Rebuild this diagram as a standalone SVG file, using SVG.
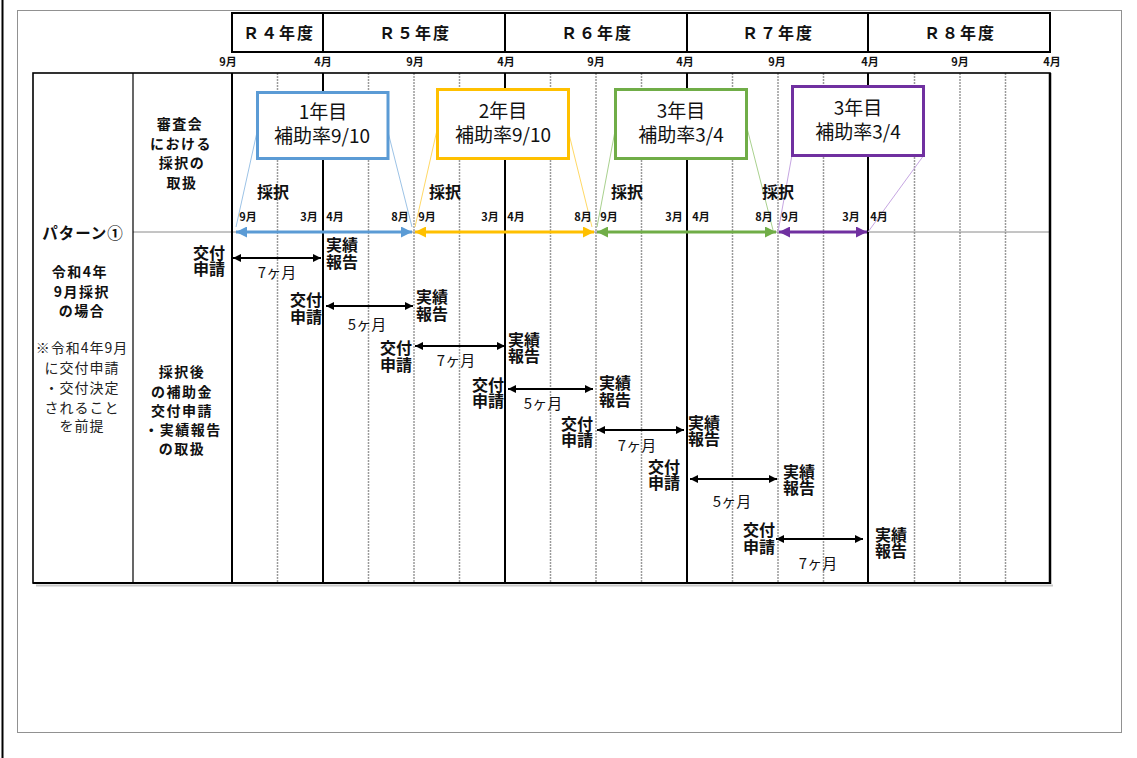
<svg xmlns="http://www.w3.org/2000/svg" width="1137" height="758" viewBox="0 0 1137 758">
<style>
text{font-family:"Noto Sans CJK JP","Liberation Sans",sans-serif;fill:#111}
.b{font-weight:bold}
.hdr{font-size:16px;font-weight:bold;text-anchor:middle;letter-spacing:2px}
.mo{font-size:11px;font-weight:bold;text-anchor:middle}
.sm{font-size:11px;font-weight:bold;text-anchor:middle}
.lab{font-size:14px;font-weight:bold;text-anchor:middle;letter-spacing:1.5px}
.note{font-size:14px;text-anchor:middle;letter-spacing:1px;fill:#222}
.box{font-size:19px;text-anchor:middle}
.sai{font-size:16px;font-weight:bold}
.ev{font-size:16px;font-weight:bold}
.evr{font-size:16px;font-weight:bold;text-anchor:end}
.dur{font-size:15px;text-anchor:middle}
.thick{stroke:#000;stroke-width:2;fill:none}
.grid{stroke:#9a9a9a;stroke-width:1.5;stroke-dasharray:2 1}
.arr{stroke:#000;stroke-width:2;marker-start:url(#ak);marker-end:url(#ak)}
</style>
<defs>
<marker id="ak" viewBox="0 0 10 10" refX="10" refY="5" markerWidth="9" markerHeight="8" markerUnits="userSpaceOnUse" orient="auto-start-reverse"><path d="M0,0 L10,5 L0,10 z" fill="#000"/></marker>
<marker id="abl" viewBox="0 0 10 10" refX="10" refY="5" markerWidth="11" markerHeight="11" markerUnits="userSpaceOnUse" orient="auto-start-reverse"><path d="M0,0 L10,5 L0,10 z" fill="#5b9bd5"/></marker>
<marker id="aye" viewBox="0 0 10 10" refX="10" refY="5" markerWidth="11" markerHeight="11" markerUnits="userSpaceOnUse" orient="auto-start-reverse"><path d="M0,0 L10,5 L0,10 z" fill="#ffc000"/></marker>
<marker id="agr" viewBox="0 0 10 10" refX="10" refY="5" markerWidth="11" markerHeight="11" markerUnits="userSpaceOnUse" orient="auto-start-reverse"><path d="M0,0 L10,5 L0,10 z" fill="#70ad47"/></marker>
<marker id="apu" viewBox="0 0 10 10" refX="10" refY="5" markerWidth="11" markerHeight="11" markerUnits="userSpaceOnUse" orient="auto-start-reverse"><path d="M0,0 L10,5 L0,10 z" fill="#7030a0"/></marker>
</defs>
<rect width="1137" height="758" fill="#fff"/>
<line x1="2.5" y1="0" x2="2.5" y2="758" stroke="#000" stroke-width="2"/>
<rect x="17.5" y="10.5" width="1104" height="722" fill="none" stroke="#222" stroke-width="1" stroke-dasharray="1 1"/>

<g id="header">
<rect x="232" y="13" width="818" height="39" class="thick"/>
<line x1="323" y1="13" x2="323" y2="52" class="thick"/>
<line x1="505" y1="13" x2="505" y2="52" class="thick"/>
<line x1="687" y1="13" x2="687" y2="52" class="thick"/>
<line x1="868" y1="13" x2="868" y2="52" class="thick"/>
<text class="hdr" x="279" y="39">Ｒ４年度</text>
<text class="hdr" x="415" y="39">Ｒ５年度</text>
<text class="hdr" x="597" y="39">Ｒ６年度</text>
<text class="hdr" x="778" y="39">Ｒ７年度</text>
<text class="hdr" x="960" y="39">Ｒ８年度</text>
<text class="mo" x="228" y="66">9月</text>
<text class="mo" x="323" y="66">4月</text>
<text class="mo" x="415" y="66">9月</text>
<text class="mo" x="506" y="66">4月</text>
<text class="mo" x="596" y="66">9月</text>
<text class="mo" x="685" y="66">4月</text>
<text class="mo" x="777" y="66">9月</text>
<text class="mo" x="870" y="66">4月</text>
<text class="mo" x="960" y="66">9月</text>
<text class="mo" x="1052" y="66">4月</text>
</g>

<g id="table">
<line class="grid" x1="277.5" y1="73" x2="277.5" y2="583"/>
<line class="grid" x1="368.5" y1="73" x2="368.5" y2="583"/>
<line class="grid" x1="414" y1="73" x2="414" y2="583"/>
<line class="grid" x1="459.5" y1="73" x2="459.5" y2="583"/>
<line class="grid" x1="550.5" y1="73" x2="550.5" y2="583"/>
<line class="grid" x1="596" y1="73" x2="596" y2="583"/>
<line class="grid" x1="641.5" y1="73" x2="641.5" y2="583"/>
<line class="grid" x1="732.5" y1="73" x2="732.5" y2="583"/>
<line class="grid" x1="778" y1="73" x2="778" y2="583"/>
<line class="grid" x1="823.5" y1="73" x2="823.5" y2="583"/>
<line class="grid" x1="914.5" y1="73" x2="914.5" y2="583"/>
<line class="grid" x1="960" y1="73" x2="960" y2="583"/>
<line class="grid" x1="1005.5" y1="73" x2="1005.5" y2="583"/>
<line x1="133" y1="232" x2="1050" y2="232" stroke="#8a8a8a" stroke-width="1"/>
<line x1="36" y1="585.5" x2="1053" y2="585.5" stroke="#c8c8c8" stroke-width="2"/>
<rect x="33" y="73" width="1017" height="510" fill="none" stroke="#000" stroke-width="1.6"/>
<line x1="1050" y1="73" x2="1050" y2="584" stroke="#000" stroke-width="2.5"/>
<line x1="33" y1="583" x2="1050" y2="583" stroke="#000" stroke-width="2.2"/>
<line x1="133" y1="73" x2="133" y2="583" stroke="#000" stroke-width="1.2"/>
<line x1="232" y1="73" x2="232" y2="583" class="thick"/>
<line x1="323" y1="73" x2="323" y2="583" class="thick"/>
<line x1="505" y1="73" x2="505" y2="583" class="thick"/>
<line x1="687" y1="73" x2="687" y2="583" class="thick"/>
<line x1="868" y1="73" x2="868" y2="583" class="thick"/>
</g>

<g id="left-col">
<text class="b" x="83" y="239" text-anchor="middle" font-size="15.5" letter-spacing="1">パターン①</text>
<text class="lab"><tspan x="80" y="277">令和4年</tspan><tspan x="82" y="297">9月採択</tspan><tspan x="82" y="316">の場合</tspan></text>
<text class="note"><tspan x="82" y="353">※令和4年9月</tspan><tspan x="82" y="373">に交付申請</tspan><tspan x="82" y="393">・交付決定</tspan><tspan x="82" y="413">されること</tspan><tspan x="82" y="431">を前提</tspan></text>
</g>

<g id="col2">
<text class="lab"><tspan x="180" y="129">審査会</tspan><tspan x="181" y="149">における</tspan><tspan x="182" y="168">採択の</tspan><tspan x="182" y="188">取扱</tspan></text>
<text class="lab"><tspan x="182" y="377">採択後</tspan><tspan x="182" y="397">の補助金</tspan><tspan x="182" y="416">交付申請</tspan><tspan x="183" y="435">・実績報告</tspan><tspan x="182" y="454">の取扱</tspan></text>
</g>

<g id="connectors">
<line x1="257" y1="132" x2="236" y2="227" stroke="#9dc3e6" stroke-width="1"/>
<line x1="388" y1="132" x2="412" y2="227" stroke="#9dc3e6" stroke-width="1"/>
<line x1="437" y1="130" x2="415" y2="227" stroke="#ffd966" stroke-width="1"/>
<line x1="568" y1="130" x2="592" y2="227" stroke="#ffd966" stroke-width="1"/>
<line x1="615" y1="131" x2="597" y2="227" stroke="#a9d18e" stroke-width="1"/>
<line x1="747" y1="128" x2="773" y2="230" stroke="#a9d18e" stroke-width="1"/>
<line x1="792" y1="155" x2="778" y2="232" stroke="#c6a6e2" stroke-width="1"/>
<line x1="924" y1="155" x2="868" y2="232" stroke="#c6a6e2" stroke-width="1"/>
<line x1="236" y1="232" x2="412" y2="232" stroke="#5b9bd5" stroke-width="3" marker-start="url(#abl)" marker-end="url(#abl)"/>
<line x1="415" y1="232" x2="594" y2="232" stroke="#ffc000" stroke-width="3" marker-start="url(#aye)" marker-end="url(#aye)"/>
<line x1="597" y1="232" x2="776" y2="232" stroke="#70ad47" stroke-width="3" marker-start="url(#agr)" marker-end="url(#agr)"/>
<line x1="779" y1="232" x2="867" y2="232" stroke="#7030a0" stroke-width="3" marker-start="url(#apu)" marker-end="url(#apu)"/>
<line class="arr" x1="233" y1="258" x2="321" y2="258"/>
<line class="arr" x1="326" y1="306" x2="413" y2="306"/>
<line class="arr" x1="415" y1="346" x2="505" y2="346"/>
<line class="arr" x1="508" y1="389" x2="593" y2="389"/>
<line class="arr" x1="597" y1="430" x2="684" y2="430"/>
<line class="arr" x1="690" y1="479" x2="777" y2="479"/>
<line class="arr" x1="776" y1="539" x2="863" y2="539"/>
</g>

<g id="year1">
<rect x="257.5" y="92.5" width="130.5" height="66" fill="#fff" stroke="#5b9bd5" stroke-width="3"/>
<text class="box"><tspan x="323" y="119">1年目</tspan><tspan x="322" y="143">補助率9/10</tspan></text>
<text class="sai" x="257" y="198">採択</text>
<text class="sm" x="248" y="221">9月</text>
<text class="sm" x="309" y="221">3月</text>
<text class="sm" x="335" y="221">4月</text>
<text class="sm" x="400" y="221">8月</text>
</g>
<g id="year2">
<rect x="437.5" y="89.5" width="131" height="69" fill="#fff" stroke="#ffc000" stroke-width="3"/>
<text class="box"><tspan x="503" y="118">2年目</tspan><tspan x="503" y="142">補助率9/10</tspan></text>
<text class="sai" x="429" y="198">採択</text>
<text class="sm" x="427" y="221">9月</text>
<text class="sm" x="490" y="221">3月</text>
<text class="sm" x="516" y="221">4月</text>
<text class="sm" x="583" y="221">8月</text>
</g>
<g id="year3">
<rect x="615.5" y="89.5" width="131" height="69" fill="#fff" stroke="#70ad47" stroke-width="3"/>
<text class="box"><tspan x="681" y="118">3年目</tspan><tspan x="681" y="142">補助率3/4</tspan></text>
<text class="sai" x="611" y="198">採択</text>
<text class="sm" x="609" y="221">9月</text>
<text class="sm" x="674" y="221">3月</text>
<text class="sm" x="701" y="221">4月</text>
<text class="sm" x="764" y="221">8月</text>
</g>
<g id="year3b">
<rect x="792.5" y="86.5" width="131" height="69" fill="#fff" stroke="#7030a0" stroke-width="3"/>
<text class="box"><tspan x="858" y="115">3年目</tspan><tspan x="858" y="139">補助率3/4</tspan></text>
<text class="sai" x="762" y="198">採択</text>
<text class="sm" x="790" y="221">9月</text>
<text class="sm" x="851" y="221">3月</text>
<text class="sm" x="879" y="221">4月</text>
</g>

<g id="row1">
<text class="evr"><tspan x="225" y="259">交付</tspan><tspan x="225" y="275">申請</tspan></text>
<text class="ev"><tspan x="326" y="251">実績</tspan><tspan x="326" y="268">報告</tspan></text>
<text class="dur" x="277" y="278">7ヶ月</text>
</g>
<g id="row2">
<text class="evr"><tspan x="322" y="306">交付</tspan><tspan x="322" y="323">申請</tspan></text>
<text class="ev"><tspan x="416" y="303">実績</tspan><tspan x="416" y="320">報告</tspan></text>
<text class="dur" x="367" y="330">5ヶ月</text>
</g>
<g id="row3">
<text class="evr"><tspan x="412" y="354">交付</tspan><tspan x="412" y="371">申請</tspan></text>
<text class="ev"><tspan x="508" y="346">実績</tspan><tspan x="508" y="362">報告</tspan></text>
<text class="dur" x="456" y="366">7ヶ月</text>
</g>
<g id="row4">
<text class="evr"><tspan x="504" y="391">交付</tspan><tspan x="504" y="407">申請</tspan></text>
<text class="ev"><tspan x="599" y="389">実績</tspan><tspan x="599" y="406">報告</tspan></text>
<text class="dur" x="543" y="409">5ヶ月</text>
</g>
<g id="row5">
<text class="evr"><tspan x="593" y="430">交付</tspan><tspan x="593" y="446">申請</tspan></text>
<text class="ev"><tspan x="688" y="429">実績</tspan><tspan x="688" y="445">報告</tspan></text>
<text class="dur" x="637" y="451">7ヶ月</text>
</g>
<g id="row6">
<text class="evr"><tspan x="680" y="473">交付</tspan><tspan x="680" y="489">申請</tspan></text>
<text class="ev"><tspan x="783" y="478">実績</tspan><tspan x="783" y="494">報告</tspan></text>
<text class="dur" x="732" y="507">5ヶ月</text>
</g>
<g id="row7">
<text class="evr"><tspan x="775" y="536">交付</tspan><tspan x="775" y="553">申請</tspan></text>
<text class="ev"><tspan x="875" y="541">実績</tspan><tspan x="875" y="557">報告</tspan></text>
<text class="dur" x="818" y="569">7ヶ月</text>
</g>
</svg>
